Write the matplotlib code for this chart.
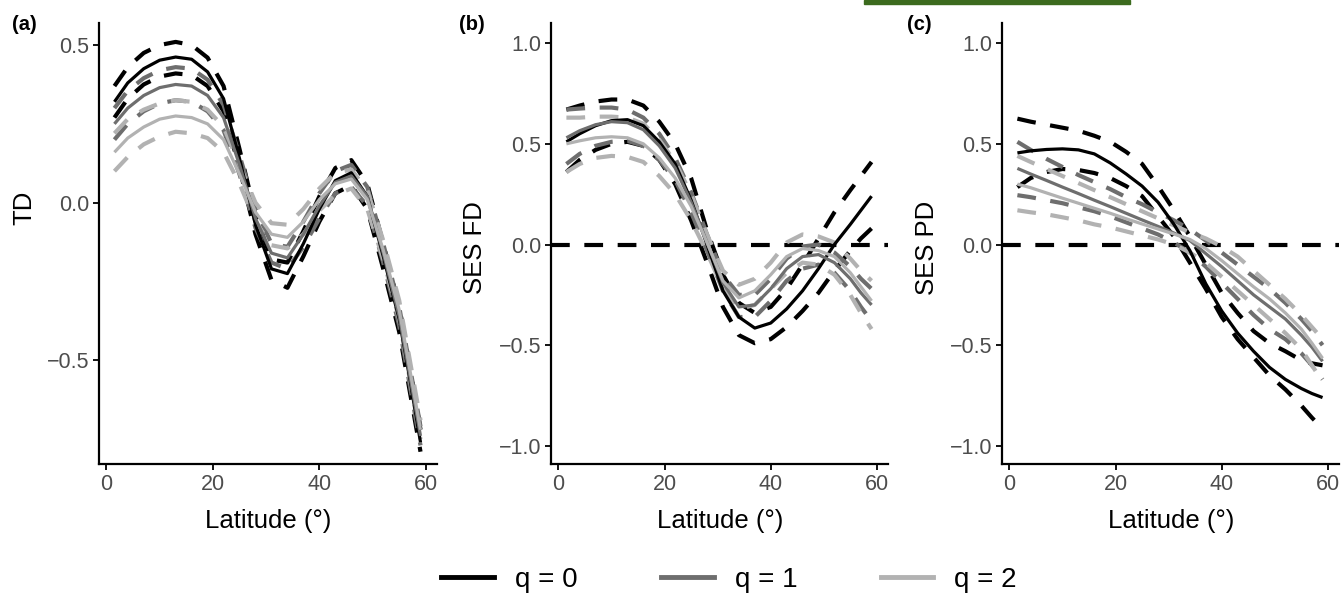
import matplotlib
matplotlib.use("Agg")
import matplotlib.pyplot as plt
from matplotlib.lines import Line2D
from matplotlib.patches import Rectangle

plt.rcParams['font.family'] = ['Liberation Sans', 'DejaVu Sans']

# latitude sample points shared by every curve
lat = [1.5, 4, 7, 10, 13, 16, 19, 22, 25, 28, 31, 34, 37, 40, 43, 46, 49, 52, 55, 57, 59]

# (a) TD
td_q0 = [0.32, 0.38, 0.425, 0.452, 0.462, 0.455, 0.415, 0.33, 0.14, -0.07, -0.21, -0.225, -0.13, -0.02, 0.07, 0.095, 0.02, -0.17, -0.37, -0.56, -0.76]
td_q0_up = [0.37, 0.43, 0.475, 0.50, 0.51, 0.50, 0.46, 0.37, 0.17, -0.04, -0.18, -0.19, -0.09, 0.02, 0.11, 0.135, 0.06, -0.13, -0.33, -0.52, -0.72]
td_q0_lo = [0.27, 0.33, 0.375, 0.40, 0.41, 0.405, 0.37, 0.29, 0.11, -0.10, -0.245, -0.27, -0.17, -0.06, 0.03, 0.055, -0.02, -0.21, -0.41, -0.60, -0.79]
td_q1 = [0.25, 0.30, 0.34, 0.365, 0.375, 0.37, 0.34, 0.27, 0.12, -0.05, -0.16, -0.175, -0.10, -0.01, 0.065, 0.085, 0.02, -0.16, -0.36, -0.55, -0.74]
td_q1_up = [0.30, 0.355, 0.395, 0.42, 0.43, 0.425, 0.39, 0.31, 0.15, -0.02, -0.13, -0.14, -0.06, 0.03, 0.10, 0.12, 0.05, -0.13, -0.33, -0.52, -0.71]
td_q1_lo = [0.20, 0.25, 0.29, 0.315, 0.325, 0.32, 0.29, 0.23, 0.09, -0.08, -0.19, -0.21, -0.14, -0.05, 0.03, 0.05, -0.01, -0.19, -0.39, -0.58, -0.77]
td_q2 = [0.16, 0.205, 0.24, 0.265, 0.275, 0.27, 0.25, 0.20, 0.09, -0.03, -0.10, -0.11, -0.06, 0.01, 0.06, 0.075, 0.01, -0.15, -0.34, -0.53, -0.72]
td_q2_up = [0.22, 0.265, 0.295, 0.315, 0.325, 0.32, 0.295, 0.24, 0.12, 0.00, -0.065, -0.07, -0.02, 0.045, 0.095, 0.105, 0.04, -0.12, -0.31, -0.50, -0.69]
td_q2_lo = [0.10, 0.145, 0.185, 0.21, 0.225, 0.22, 0.205, 0.16, 0.06, -0.06, -0.135, -0.145, -0.10, -0.025, 0.025, 0.045, -0.02, -0.18, -0.37, -0.56, -0.75]

# (b) SES FD
fd_q0 = [0.51, 0.55, 0.59, 0.615, 0.62, 0.59, 0.51, 0.40, 0.22, 0.0, -0.23, -0.36, -0.415, -0.39, -0.32, -0.23, -0.12, 0.0, 0.10, 0.17, 0.24]
fd_q0_up = [0.67, 0.69, 0.71, 0.72, 0.72, 0.69, 0.61, 0.50, 0.33, 0.07, -0.15, -0.29, -0.34, -0.31, -0.22, -0.10, 0.03, 0.16, 0.27, 0.34, 0.41]
fd_q0_lo = [0.36, 0.42, 0.47, 0.50, 0.51, 0.49, 0.42, 0.30, 0.12, -0.09, -0.31, -0.45, -0.49, -0.47, -0.41, -0.33, -0.24, -0.13, -0.03, 0.03, 0.08]
fd_q1 = [0.53, 0.565, 0.595, 0.61, 0.605, 0.57, 0.49, 0.38, 0.21, 0.01, -0.19, -0.31, -0.30, -0.22, -0.12, -0.06, -0.05, -0.09, -0.17, -0.24, -0.30]
fd_q1_up = [0.67, 0.675, 0.68, 0.68, 0.67, 0.63, 0.55, 0.43, 0.26, 0.05, -0.15, -0.25, -0.25, -0.17, -0.07, -0.01, 0.00, -0.04, -0.11, -0.17, -0.22]
fd_q1_lo = [0.40, 0.45, 0.49, 0.51, 0.515, 0.49, 0.42, 0.32, 0.16, -0.03, -0.23, -0.36, -0.36, -0.28, -0.18, -0.12, -0.10, -0.14, -0.23, -0.31, -0.38]
fd_q2 = [0.50, 0.515, 0.53, 0.535, 0.53, 0.50, 0.43, 0.33, 0.19, 0.01, -0.18, -0.265, -0.23, -0.15, -0.06, -0.02, -0.03, -0.06, -0.14, -0.21, -0.28]
fd_q2_up = [0.63, 0.63, 0.635, 0.635, 0.63, 0.60, 0.52, 0.41, 0.25, 0.05, -0.13, -0.20, -0.17, -0.09, 0.01, 0.05, 0.04, 0.01, -0.07, -0.13, -0.18]
fd_q2_lo = [0.36, 0.40, 0.43, 0.44, 0.435, 0.41, 0.34, 0.25, 0.12, -0.04, -0.22, -0.32, -0.30, -0.22, -0.14, -0.09, -0.10, -0.15, -0.25, -0.34, -0.42]

# (c) SES PD
pd_q0 = [0.455, 0.465, 0.472, 0.475, 0.47, 0.45, 0.405, 0.35, 0.29, 0.21, 0.10, -0.03, -0.195, -0.33, -0.44, -0.53, -0.61, -0.67, -0.715, -0.74, -0.76]
pd_q0_up = [0.625, 0.61, 0.595, 0.58, 0.565, 0.54, 0.51, 0.46, 0.40, 0.29, 0.17, 0.04, -0.10, -0.24, -0.34, -0.43, -0.49, -0.53, -0.575, -0.59, -0.60]
pd_q0_lo = [0.285, 0.33, 0.36, 0.375, 0.37, 0.355, 0.33, 0.29, 0.24, 0.14, 0.04, -0.09, -0.22, -0.36, -0.47, -0.56, -0.65, -0.72, -0.80, -0.86, -0.915]
pd_q1 = [0.378, 0.35, 0.318, 0.285, 0.253, 0.22, 0.188, 0.155, 0.122, 0.09, 0.057, 0.02, -0.045, -0.11, -0.18, -0.25, -0.31, -0.37, -0.45, -0.51, -0.58]
pd_q1_up = [0.51, 0.47, 0.425, 0.385, 0.345, 0.31, 0.275, 0.235, 0.20, 0.16, 0.12, 0.075, 0.02, -0.04, -0.10, -0.16, -0.22, -0.29, -0.37, -0.43, -0.50]
pd_q1_lo = [0.245, 0.235, 0.22, 0.205, 0.185, 0.165, 0.14, 0.11, 0.08, 0.05, 0.01, -0.04, -0.11, -0.19, -0.27, -0.35, -0.42, -0.47, -0.54, -0.60, -0.67]
pd_q2 = [0.30, 0.282, 0.256, 0.23, 0.205, 0.18, 0.155, 0.128, 0.102, 0.077, 0.052, 0.025, -0.02, -0.08, -0.145, -0.21, -0.27, -0.34, -0.42, -0.49, -0.565]
pd_q2_up = [0.44, 0.41, 0.375, 0.34, 0.305, 0.27, 0.235, 0.20, 0.165, 0.13, 0.095, 0.06, 0.03, -0.01, -0.06, -0.13, -0.20, -0.27, -0.35, -0.41, -0.47]
pd_q2_lo = [0.17, 0.16, 0.15, 0.135, 0.12, 0.10, 0.085, 0.065, 0.045, 0.025, 0.0, -0.04, -0.09, -0.16, -0.23, -0.30, -0.37, -0.44, -0.52, -0.60, -0.68]

q_labels = ['q = 0', 'q = 1', 'q = 2']
q_colors = ['#000000', '#6e6e6e', '#b2b2b2']

W, H = 1343, 595
fig = plt.figure(figsize=(W / 100, H / 100), dpi=100)


def px(x, y):
    return x / W, 1 - y / H


def make_axes(left, right):
    top, bottom = 23, 464
    return fig.add_axes([left / W, (H - bottom) / H, (right - left) / W, (bottom - top) / H])


panels = [
    dict(ax=make_axes(99, 437), series=[(td_q0, td_q0_up, td_q0_lo), (td_q1, td_q1_up, td_q1_lo), (td_q2, td_q2_up, td_q2_lo)],
         ylim=(-0.829, 0.57), yticks=[-0.5, 0.0, 0.5], zero=False),
    dict(ax=make_axes(551, 888), series=[(fd_q0, fd_q0_up, fd_q0_lo), (fd_q1, fd_q1_up, fd_q1_lo), (fd_q2, fd_q2_up, fd_q2_lo)],
         ylim=(-1.09, 1.10), yticks=[-1.0, -0.5, 0.0, 0.5, 1.0], zero=True),
    dict(ax=make_axes(1002, 1339), series=[(pd_q0, pd_q0_up, pd_q0_lo), (pd_q1, pd_q1_up, pd_q1_lo), (pd_q2, pd_q2_up, pd_q2_lo)],
         ylim=(-1.09, 1.10), yticks=[-1.0, -0.5, 0.0, 0.5, 1.0], zero=True),
]

dash = (4.5, 3.5)
for p in panels:
    ax = p['ax']
    if p['zero']:
        ax.axhline(0, color='black', lw=3.0, dashes=dash, zorder=1)
    for (mean, up, lo), c in zip(p['series'], q_colors):
        for band in (up, lo):
            ax.plot(lat, band, color=c, lw=3.0, dashes=dash, solid_joinstyle='round', zorder=2)
    for (mean, up, lo), c in zip(p['series'], q_colors):
        ax.plot(lat, mean, color=c, lw=2.3, solid_capstyle='butt', solid_joinstyle='round', zorder=3)
    ax.set_xlim(-1.4, 62.1)
    ax.set_ylim(*p['ylim'])
    ax.set_xticks([0, 20, 40, 60])
    ax.set_yticks(p['yticks'])
    for s in ('top', 'right'):
        ax.spines[s].set_visible(False)
    for s in ('left', 'bottom'):
        ax.spines[s].set_linewidth(1.6)
    ax.tick_params(length=4, width=1.3, pad=3, labelsize=15.5, labelcolor='#4d4d4d')
    ax.set_facecolor('none')

# panel tags, axis titles
for tag, x in [('(a)', 12), ('(b)', 459), ('(c)', 907)]:
    fig.text(*px(x, 24), tag, ha='left', va='center', fontsize=14.5, fontweight='bold')
for lab, x, y in [('TD', 24, 208), ('SES FD', 475, 248), ('SES PD', 927, 248)]:
    fig.text(*px(x, y), lab, rotation=90, ha='center', va='center', fontsize=18.5)
for x in (268, 720, 1171):
    fig.text(*px(x, 521), 'Latitude (°)', ha='center', va='center', fontsize=18.5)

handles = [Line2D([0], [0], color=c, lw=3.5) for c in q_colors]
fig.legend(handles, q_labels, loc='center', bbox_to_anchor=px(729, 580), ncol=3, frameon=False,
           fontsize=20, handlelength=1.9, handletextpad=0.75, columnspacing=3.0)

# green strip at the top edge of the source image
fig.patches.append(Rectangle(px(864, 4), (1130 - 864) / W, 4 / H, transform=fig.transFigure,
                             color='#3c6b1e', zorder=5))

fig.savefig('out.png', dpi=100)
